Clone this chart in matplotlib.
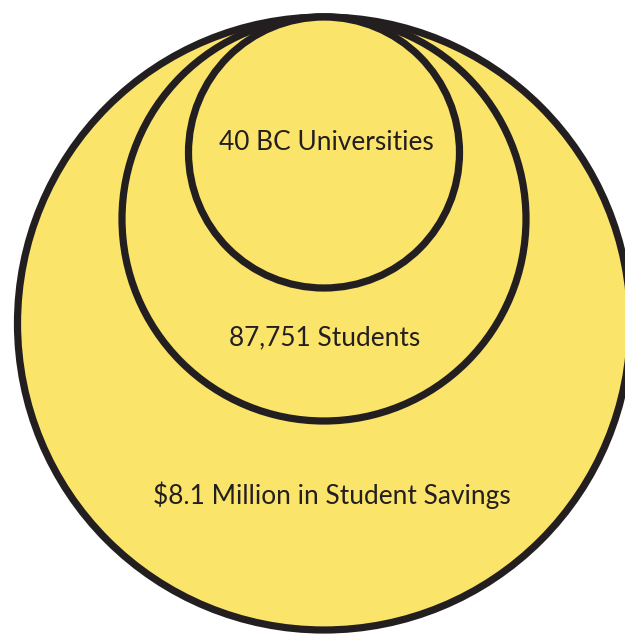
import matplotlib
matplotlib.use("Agg")
import matplotlib.pyplot as plt
from matplotlib.patches import Circle

# Nested circle data (outer to inner)
labels = ["$8.1 Million in Student Savings", "87,751 Students", "40 BC Universities"]
radii = [306.5, 202.0, 135.5]          # relative circle sizes
label_y = [495, 338, 142]              # vertical label positions
label_x = [332, 325, 326]

TOP = 17.0
CX = 324.0
FILL = "#FBE46A"
EDGE = "#231F20"

fig = plt.figure(figsize=(6.25, 6.35), dpi=100)
ax = fig.add_axes([0, 0, 1, 1])
ax.set_xlim(0, 625)
ax.set_ylim(635, 0)
ax.set_aspect("equal")
ax.axis("off")

for r in radii:
    ax.add_patch(Circle((CX, TOP + r), r, facecolor=FILL, edgecolor=EDGE, linewidth=5.2))

for lab, x, y in zip(labels, label_x, label_y):
    ax.text(x, y, lab, ha="center", va="center", fontsize=18.9,
            family=["Lato", "DejaVu Sans"], color=EDGE)

fig.savefig("out.png", dpi=100, facecolor="white")
